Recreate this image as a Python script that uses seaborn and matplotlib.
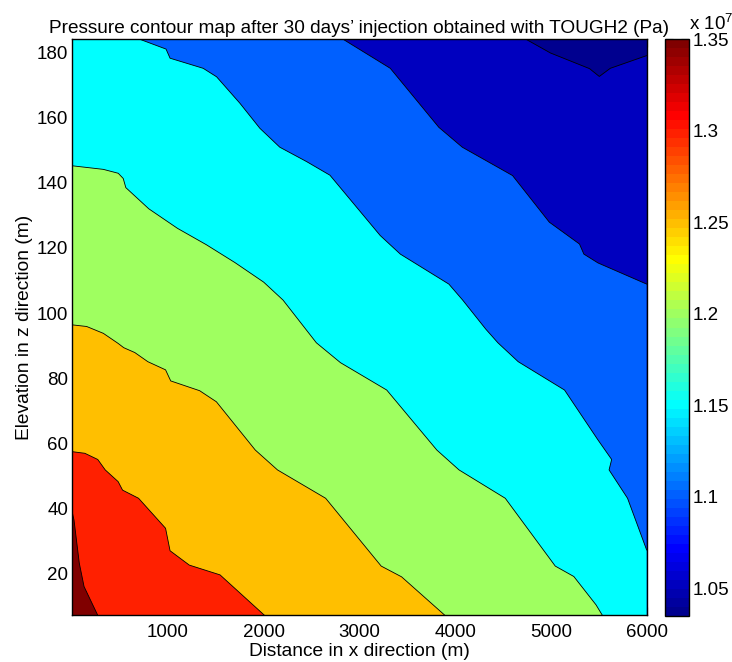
import numpy as np
import matplotlib
matplotlib.use("Agg")
import matplotlib.pyplot as plt
import seaborn as sns
from matplotlib.colors import ListedColormap, Normalize
from matplotlib.cm import ScalarMappable

# ---------------- data (pressure in units of 1e7 Pa) ----------------
levels = [1.05, 1.10, 1.15, 1.20, 1.25, 1.30, 1.35]
p_min, p_max = 1.0349, 1.3500

# contour lines (x in m, z in m)
c105_x = [4740, 4995, 5403, 5505, 5620, 6000]
c105_y = [184.0, 179.8, 175.0, 172.6, 175.1, 179.0]

c110_x = [2830, 3322, 3829, 4074, 4599, 4983, 5298, 5344, 5491, 6000]
c110_y = [184.0, 175.1, 157.0, 150.9, 142.2, 127.9, 121.2, 118.1, 115.4, 108.9]

c115_x = [707, 980, 1022, 1368, 1508, 1751, 1960, 2168, 2447, 2692, 3217, 3427,
          3934, 4078, 4319, 4446, 4658, 5142, 5491, 5634, 5607, 5800, 6000]
c115_y = [184.0, 181.0, 178.2, 175.1, 172.5, 164.4, 156.7, 150.9, 146.5, 142.3, 123.8, 118.1,
          108.9, 104.0, 95.1, 90.9, 85.1, 76.4, 61.1, 55.1, 51.9, 43.2, 27.3]

c120_x = [0, 325, 481, 533, 560, 800, 1100, 1400, 1700, 2000, 2202, 2550, 2802,
          3285, 3808, 4040, 4523, 5045, 5239, 5471, 5537]
c120_y = [145.2, 144.1, 142.9, 141.3, 138.5, 132.0, 126.0, 121.0, 115.5, 109.5, 104.0, 90.9, 84.8,
          76.4, 58.0, 51.9, 43.2, 22.4, 19.2, 10.5, 7.3]

c125_x = [0, 151, 325, 480, 538, 654, 790, 975, 1029, 1331, 1506, 1912, 2144,
          2647, 3227, 3440, 3892]
c125_y = [96.4, 95.9, 93.8, 90.7, 89.4, 87.9, 85.1, 82.6, 79.2, 76.2, 72.8, 58.0, 51.9,
          43.2, 22.4, 19.1, 7.3]

c130_x = [0, 132, 267, 345, 480, 526, 693, 975, 1022, 1223, 1544, 2008]
c130_y = [57.5, 57.0, 55.1, 51.9, 48.3, 45.7, 43.2, 34.0, 27.1, 22.7, 19.7, 7.3]

c135_x = [0, 19, 74, 124, 267]
c135_y = [39.0, 36.5, 23.3, 16.1, 7.3]

x_range = [0, 6000]
y_range = [7.3, 184.0]
x_ticks = [1000, 2000, 3000, 4000, 5000, 6000]
y_ticks = [20, 40, 60, 80, 100, 120, 140, 160, 180]
cbar_labels = ["1.05", "1.1", "1.15", "1.2", "1.25", "1.3", "1.35"]

title = "Pressure contour map after 30 days\u2019 injection obtained with TOUGH2 (Pa)"
xlabel = "Distance in x direction (m)"
ylabel = "Elevation in z direction (m)"

contours = [(c105_x, c105_y), (c110_x, c110_y), (c115_x, c115_y), (c120_x, c120_y),
            (c125_x, c125_y), (c130_x, c130_y), (c135_x, c135_y)]


def matlab_jet(m=64):
    n = int(np.ceil(m / 4))
    u = np.concatenate([np.arange(1, n + 1) / n, np.ones(n - 1), np.arange(n, 0, -1) / n])
    g = int(np.ceil(n / 2)) - (1 if m % 4 == 1 else 0) + np.arange(1, len(u) + 1)
    r = g + n
    b = g - n
    J = np.zeros((m, 3))
    for idx, col in ((r, 0), (g, 1), (b, 2)):
        ok = (idx >= 1) & (idx <= m)
        J[idx[ok] - 1, col] = u[ok]
    return J


# ---------------- style ----------------
sns.set_theme(style="white")
plt.rcParams["font.family"] = ["Liberation Sans", "DejaVu Sans"]
plt.rcParams["mathtext.default"] = "regular"
for k in ["text.color", "axes.labelcolor", "xtick.color", "ytick.color", "axes.edgecolor"]:
    plt.rcParams[k] = "black"

cmap = ListedColormap(matlab_jet(64))
norm = Normalize(vmin=p_min, vmax=p_max)

fig = plt.figure(figsize=(7.32, 6.62), dpi=100)
ax = fig.add_axes([72.2 / 732, 46.7 / 662, 574.5 / 732, 576.0 / 662])
cax = fig.add_axes([665 / 732, 46.0 / 662, 24.3 / 732, 577.0 / 662])

x0, x1 = x_range
y0, y1 = y_range
ax.set_xlim(x0, x1)
ax.set_ylim(y0, y1)

# region below the lowest level
ax.fill([x0, x1, x1, x0], [y0, y0, y1, y1], color=cmap(norm(p_min)), lw=0, zorder=1)
# each level: fill the side towards the injection (lower-left)
for lev, (xs, ys) in zip(levels, contours):
    px = list(xs) + [x1, x0, x0]
    py = list(ys) + [y0, y0, y1]
    ax.fill(px, py, color=cmap(norm(lev)), lw=0, zorder=1)

for xs, ys in contours:
    sns.lineplot(x=xs, y=ys, sort=False, estimator=None, color="black",
                 lw=0.6, ax=ax, zorder=3)

ax.set_xticks(x_ticks)
ax.set_yticks(y_ticks)
ax.tick_params(direction="in", length=5.5, width=0.8, top=True, right=True,
               bottom=True, left=True, labelsize=13.5)
ax.tick_params(axis="x", pad=6.5)
ax.tick_params(axis="y", pad=2.8)
for s in ax.spines.values():
    s.set_linewidth(1.0)
    s.set_color("black")
    s.set_zorder(4)

ax.set_title(title, fontsize=13.7, pad=4.5)
ax.set_xlabel(xlabel, fontsize=13.8, labelpad=1)
ax.set_ylabel(ylabel, fontsize=13.8, labelpad=3)

cb = fig.colorbar(ScalarMappable(norm=norm, cmap=cmap), cax=cax)
cb.set_ticks(levels)
cb.set_ticklabels(cbar_labels)
cb.outline.set_linewidth(1.0)
cb.outline.set_edgecolor("black")
cax.tick_params(direction="in", length=5.5, width=0.8, left=True, right=True,
                labelleft=False, labelright=True, labelsize=13.5, pad=2.7)
fig.text(689 / 732, 1 - 29.5 / 662, "x 10$^{7}$", fontsize=13.5, ha="left", va="baseline")

fig.savefig("out.png", dpi=100)
